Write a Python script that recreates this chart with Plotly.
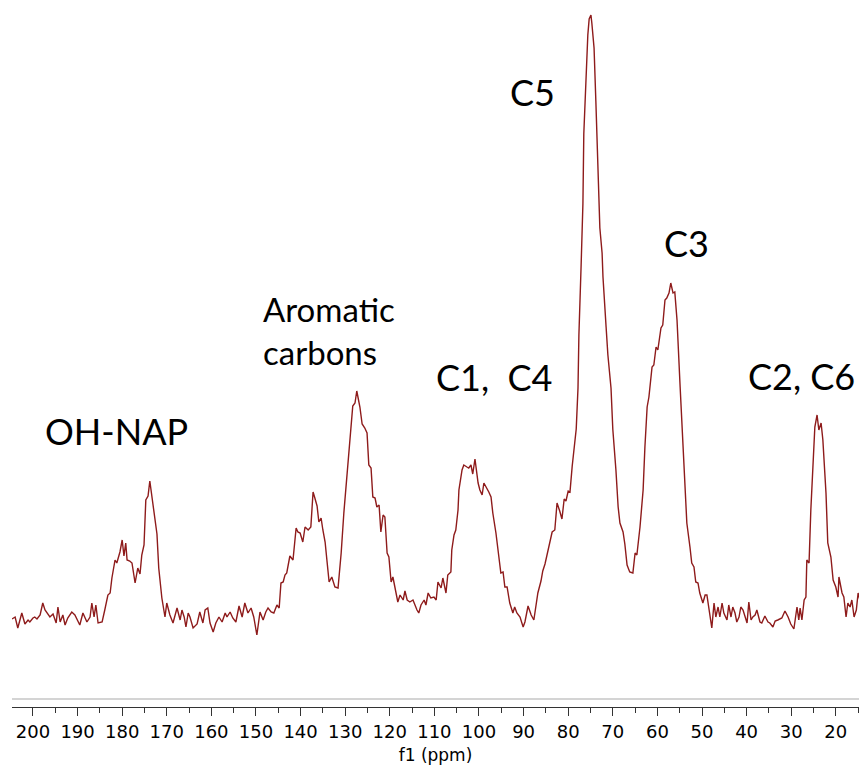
import plotly.graph_objects as go

# Chemical shift (ppm) and intensity (arbitrary units)
ppm = [
    204.7, 204.0, 203.4, 202.9, 202.5, 201.8, 201.1, 200.7, 200.0, 199.6, 199.1, 198.4, 197.8, 197.3, 196.9,
    196.2, 195.5, 194.8, 194.4, 193.9, 193.3, 192.8, 192.2, 191.3, 190.6, 190.1, 189.5, 188.8, 187.9, 187.2,
    186.8, 186.3, 185.9, 185.4, 184.5, 183.9, 183.2, 182.7, 182.3, 181.6, 181.2, 180.5, 180.0, 179.6, 179.2,
    178.9, 178.3, 177.8, 177.1, 176.5, 176.0, 175.6, 175.1, 174.7, 174.2, 173.8, 173.1, 172.2, 171.8, 171.1,
    170.4,
    170.0, 169.3, 168.6, 167.7, 167.0, 166.6, 166.1, 165.7, 165.2, 164.8, 164.1, 163.2, 162.6, 161.9, 161.4,
    160.8, 160.3, 159.6, 159.0, 158.3, 157.6, 156.9, 156.5, 155.8, 155.2, 154.5, 153.8, 153.1, 152.5, 151.8,
    151.1, 150.5, 149.8, 149.1, 148.4, 147.8, 147.3, 146.6, 146.0, 145.3, 144.8, 144.4, 143.9, 143.5, 143.1,
    142.4, 141.7, 141.0, 140.6, 140.1, 139.5, 139.0, 138.3, 137.7, 137.2, 136.8, 136.3, 135.9, 135.4, 135.0,
    134.5, 134.1, 133.6, 133.0, 132.3, 131.6, 130.9, 130.3, 129.6, 129.2, 128.7, 128.3, 127.8, 127.4, 126.7,
    126.2, 125.6, 125.1, 124.7, 124.2, 123.8, 123.3, 122.9, 122.4, 122.0, 121.5, 121.1, 120.6, 120.2, 119.7,
    119.3, 118.6, 118.2, 117.7, 117.0, 116.6, 116.1, 115.5, 114.8, 113.9, 113.5,
    113.0, 112.3, 111.9, 111.4, 110.8, 110.1, 109.6, 109.2, 108.5, 108.1, 107.4, 107.0, 106.3, 106.1, 105.6,
    105.2, 104.7, 104.5, 103.8, 103.4, 102.7, 102.3, 101.8, 101.4, 100.9, 100.2, 99.8, 99.3, 98.9, 98.2,
    97.8, 97.3, 96.9, 96.2, 95.7, 95.1, 94.6, 94.2, 93.7, 93.1, 92.4, 92.0, 91.5, 90.8, 90.1,
    89.7, 89.0, 88.3, 87.7, 87.2, 86.8,
    86.1, 85.7, 85.2, 84.8, 84.3, 83.6, 83.0, 82.5, 81.9, 81.4, 80.9, 80.5, 80.0, 79.6, 79.1,
    78.7, 78.2, 77.8, 77.6, 77.1, 76.7, 76.5, 76.0, 75.6, 75.3, 74.9, 74.7, 74.2, 73.8, 73.3,
    72.9, 72.4, 72.2, 71.5, 71.1, 70.4, 70.0, 69.3, 68.8, 68.4, 67.7, 67.3, 66.8, 66.2,
    65.5, 65.0, 64.6, 63.9, 63.2, 62.8, 62.3, 61.9, 61.2, 60.8, 60.3, 59.9, 59.2, 58.8, 58.3,
    57.9, 57.4, 57.0, 56.5, 56.1, 55.6, 54.9, 54.3, 53.8, 53.4, 52.7, 52.3, 51.8, 51.4, 50.9,
    50.5, 49.8, 49.3, 48.9, 48.2, 47.8, 47.3, 46.9, 46.4, 46.0, 45.5, 45.1, 44.4, 44.0, 43.5,
    43.1, 42.6, 42.2, 41.7, 41.3, 40.8, 40.4, 39.9, 39.5, 39.0,
    38.6, 38.1, 37.7, 37.0, 36.6, 35.9, 35.2, 34.8, 34.1, 33.6, 33.0, 32.1, 31.4, 30.7, 30.1,
    29.4, 28.7, 28.3, 28.0, 27.6, 27.1, 26.7, 26.5, 26.0, 25.6, 25.1, 24.7, 24.2, 23.8, 23.3,
    22.9, 22.2, 21.8, 21.1, 20.6, 20.0, 19.5, 19.3, 18.6, 18.2, 17.7, 17.3, 16.8, 16.4, 15.9,
    15.4, 15.0, 14.6,
]

intensity = [
    1, 3, -8, 0, 7, -4, 0, -2, 2, 3, 1, 5, 17, 10, 7,
    3, 6, -3, 13, -2, 5, -5, 2, 8, 5, 0, -5, 7, -2, 3,
    17, 3, 15, -3, -2, 10, 25, 27, 42, 60, 57, 68, 80, 64, 77,
    60, 59, 57, 37, 52, 46, 65, 75, 120, 124, 139, 116, 86, 52, 22,
    3,
    17, 5, -3, 12, 0, 10, 3, -7, 7, 3, -8, -4, 8, -3, 10,
    12, -3, -12, -3, 3, -2, 7, 3, 8, 2, -2, 14, 3, 17, 7,
    12, 3, -15, 8, 0, 8, 12, 8, 7, 15, 12, 37, 38, 45, 47,
    64, 60, 92, 88, 87, 78, 93, 90, 93, 128, 122, 114, 98, 102, 90,
    78, 60, 38, 43, 33, 32, 67, 107, 143, 163, 185, 214, 217, 229, 213,
    196, 192, 187, 155, 152, 123, 122, 113, 115, 88, 105, 103, 67, 63, 38,
    43, 27, 18, 25, 20, 29, 20, 18, 20, 10, 7,
    15, 20, 15, 27, 22, 23, 20, 38, 32, 42, 27, 45, 48, 70, 85,
    90, 110, 130, 150, 155, 153, 152, 155, 146, 161, 137, 130, 125, 137, 132,
    128, 123, 107, 87, 67, 47, 48, 33, 33, 17, 7, 13, 7, 3, -7,
    -2, 14, 5, 0, 16, 27,
    39, 49, 56, 64, 76, 88, 90, 117, 109, 101, 121, 119, 129, 128, 154,
    174, 191, 232, 285, 355, 416, 486, 548, 585, 601, 605, 597, 572, 519, 457,
    392, 367, 343, 293, 265, 232, 191, 150, 113, 97, 88, 76, 55, 48,
    47, 67, 65, 93, 130, 173, 213, 223, 253, 255, 273, 270, 292, 295, 320,
    322, 327, 337, 327, 328, 300, 233, 173, 133, 97, 73, 57, 53, 38, 37,
    27, 17, 25, 25, 5, -8, 17, 3, 13, 3, 17, 7, 0, 15, 3,
    13, 7, -2, 3, 13, 10, 5, -3, 18, 0,
    3, 5, 10, -2, -3, 4, -2, -3, -7, -1, 0, 2, 9, 3, -4,
    -9, 13, 0, 12, 0, 20, 23, 60, 57, 110, 160, 193, 205, 190, 197,
    180, 127, 77, 63, 40, 33, 23, 43, 27, 23, 3, 17, 13, 20, 3,
    10, 27, 20,
]

# Peak labels: text, position (ppm, intensity), anchor, font size
label_text = ["C5", "C3", "C2, C6", "C1,  C4", "Aromatic<br>carbons", "OH-NAP"]
label_ppm = [87.9, 53.4, 27.6, 96.6, 148.9, 181.2]
label_int = [528, 377, 244, 243, 290, 189]
label_anchor = ["center", "center", "center", "center", "left", "center"]
label_size = [36, 36, 36, 36, 33, 36]

fig = go.Figure()
fig.add_trace(go.Scatter(
    x=ppm, y=intensity, mode="lines",
    line=dict(color="#8e1b1b", width=1.4),
    hoverinfo="skip", showlegend=False,
))

for t, xp, yi, anc, fs in zip(label_text, label_ppm, label_int, label_anchor, label_size):
    fig.add_annotation(
        x=xp, y=yi, text=t, showarrow=False, xanchor=anc, yanchor="middle",
        align="left", font=dict(family="Lato, Carlito, sans-serif", size=fs, color="black"),
    )

# light grey frame line just above the axis
fig.add_shape(type="line", xref="paper", yref="paper", x0=0, x1=1, y0=0.0113, y1=0.0113,
              line=dict(color="#d4d4d4", width=2))

fig.update_layout(
    width=859, height=765,
    margin=dict(l=12, r=0, t=0, b=58),
    paper_bgcolor="white", plot_bgcolor="white",
    xaxis=dict(
        range=[204.7, 14.8], dtick=10, tick0=0,
        showline=True, linecolor="#333333", linewidth=1,
        ticks="outside", ticklen=8, tickcolor="#333333", tickwidth=1,
        minor=dict(dtick=5, ticks="outside", ticklen=5, tickcolor="#333333"),
        showgrid=False, zeroline=False,
        tickfont=dict(family="DejaVu Sans", size=18, color="black"),
        title=dict(text="f1 (ppm)", font=dict(family="DejaVu Sans", size=17, color="black"), standoff=9),
    ),
    yaxis=dict(range=[-87, 620], visible=False, showgrid=False, zeroline=False),
)

fig.write_html("out.html")
